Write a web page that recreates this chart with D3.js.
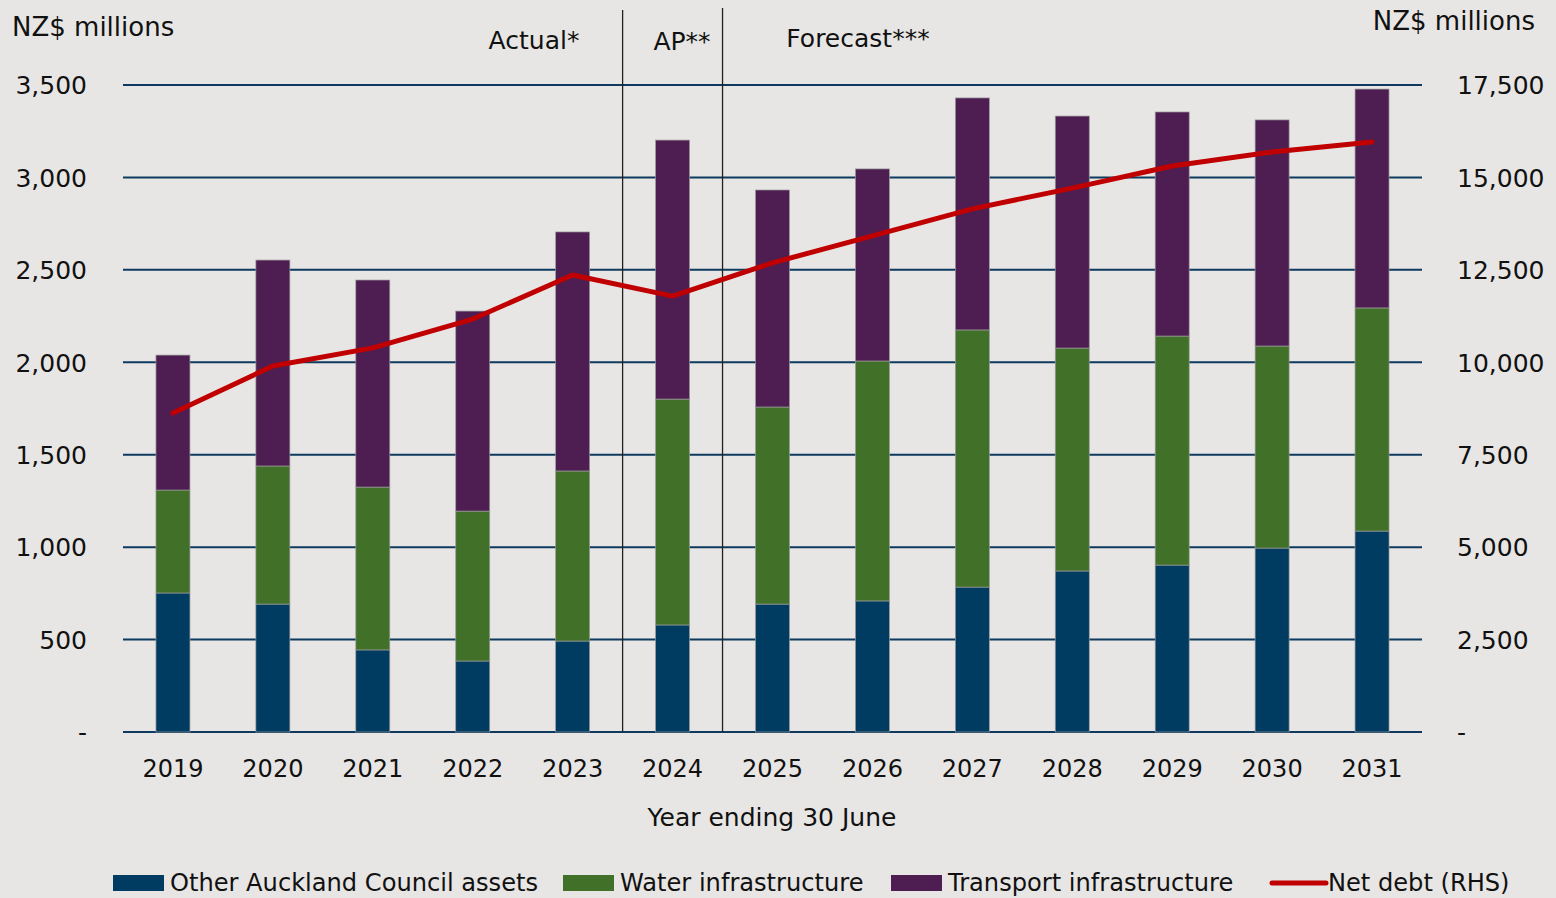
<!DOCTYPE html>
<html>
<head>
<meta charset="UTF-8">
<title></title>
<script src="https://d3js.org/d3.v7.min.js"></script>
<style>
  body { margin: 0; background: #e7e6e4; }
  text { font-family: "DejaVu Sans", "Noto Sans", sans-serif; fill: #111; }
</style>
</head>
<body>
<div id="my_dataviz"></div>
<script>
// data
var years = ["2019","2020","2021","2022","2023","2024","2025","2026","2027","2028","2029","2030","2031"];
var otherAssets = [752, 692, 444, 384, 492, 579, 692, 709, 784, 871, 903, 995, 1087];
var waterInfra  = [557, 747, 881, 811, 920, 1222, 1066, 1298, 1391, 1206, 1239, 1093, 1207];
var transportInfra = [730, 1114, 1120, 1082, 1293, 1401, 1174, 1039, 1255, 1255, 1212, 1223, 1184];
var netDebt = [8630, 9900, 10390, 11170, 12360, 11790, 12690, 13420, 14150, 14710, 15310, 15690, 15960];
var leftTicks = [0, 500, 1000, 1500, 2000, 2500, 3000, 3500];
var rightTicks = [0, 2500, 5000, 7500, 10000, 12500, 15000, 17500];
var periodLabels = ["Actual*", "AP**", "Forecast***"];
var seriesNames = ["Other Auckland Council assets", "Water infrastructure", "Transport infrastructure", "Net debt (RHS)"];
var colors = ["#003b62", "#417029", "#4e1e52", "#c00000"];

var width = 1556, height = 898;
var margin = {top: 85, right: 134, bottom: 166, left: 123};

var svg = d3.select("#my_dataviz").append("svg")
  .attr("width", width).attr("height", height)
  .style("display", "block");

svg.append("rect").attr("width", width).attr("height", height).attr("fill", "#e7e6e4");

var x = d3.scaleBand()
  .domain(years)
  .range([margin.left, width - margin.right])
  .paddingInner(0.66).paddingOuter(0.33);

var y = d3.scaleLinear().domain([0, 3500]).range([height - margin.bottom, margin.top]);
var y2 = d3.scaleLinear().domain([0, 17500]).range([height - margin.bottom, margin.top]);

var fmt = function(d) { return d === 0 ? "-" : d3.format(",")(d); };

// gridlines
svg.append("g").selectAll("line").data(leftTicks).join("line")
  .attr("x1", margin.left).attr("x2", width - margin.right)
  .attr("y1", function(d) { return y(d); }).attr("y2", function(d) { return y(d); })
  .attr("stroke", "#0d3a5e").attr("stroke-width", 2);

// left axis
var gl = svg.append("g")
  .attr("transform", "translate(" + (margin.left - 36) + ",0)")
  .call(d3.axisLeft(y).tickValues(leftTicks).tickFormat(fmt).tickSize(0).tickPadding(0));
gl.select(".domain").remove();
gl.selectAll("text").style("font-size", "25px").attr("dy", "0.35em");

// right axis
var gr = svg.append("g")
  .attr("transform", "translate(" + (width - margin.right + 35) + ",0)")
  .call(d3.axisRight(y2).tickValues(rightTicks).tickFormat(fmt).tickSize(0).tickPadding(0));
gr.select(".domain").remove();
gr.selectAll("text").style("font-size", "25px").attr("dy", "0.35em");

// x axis
var gx = svg.append("g")
  .attr("transform", "translate(0," + (height - margin.bottom) + ")")
  .call(d3.axisBottom(x).tickSize(0).tickPadding(28));
gx.select(".domain").remove();
gx.selectAll("text").style("font-size", "24px");

// stacked bars
var table = years.map(function(yr, i) {
  return {year: yr, other: otherAssets[i], water: waterInfra[i], transport: transportInfra[i]};
});
var stack = d3.stack().keys(["other", "water", "transport"])(table);

svg.append("g").selectAll("g").data(stack).join("g")
  .attr("fill", function(d, i) { return colors[i]; })
  .selectAll("rect").data(function(d) { return d; }).join("rect")
  .attr("x", function(d) { return x(d.data.year); })
  .attr("width", x.bandwidth())
  .attr("y", function(d) { return y(d[1]); })
  .attr("height", function(d) { return y(d[0]) - y(d[1]); })
  .attr("stroke", "#9a9a9a").attr("stroke-width", 0.7);

// period dividers
var dividers = [["2023","2024", 10], ["2024","2025", 8]];
svg.append("g").selectAll("line").data(dividers).join("line")
  .attr("x1", function(d) { return (x(d[0]) + x.bandwidth() + x(d[1])) / 2; })
  .attr("x2", function(d) { return (x(d[0]) + x.bandwidth() + x(d[1])) / 2; })
  .attr("y1", function(d) { return d[2]; })
  .attr("y2", height - margin.bottom)
  .attr("stroke", "#222").attr("stroke-width", 1.3);

// net debt line
svg.append("path")
  .datum(netDebt)
  .attr("fill", "none")
  .attr("stroke", colors[3])
  .attr("stroke-width", 5)
  .attr("stroke-linecap", "round")
  .attr("stroke-linejoin", "round")
  .attr("d", d3.line()
    .x(function(d, i) { return x(years[i]) + x.bandwidth() / 2; })
    .y(function(d) { return y2(d); }));

// titles
svg.append("text").attr("x", 12).attr("y", 36).style("font-size", "26px").text("NZ$ millions");
svg.append("text").attr("x", 1535).attr("y", 30).attr("text-anchor", "end").style("font-size", "26px").text("NZ$ millions");
svg.append("text").attr("x", 534).attr("y", 49).attr("text-anchor", "middle").style("font-size", "25px").text(periodLabels[0]);
svg.append("text").attr("x", 682).attr("y", 50).attr("text-anchor", "middle").style("font-size", "25px").text(periodLabels[1]);
svg.append("text").attr("x", 858).attr("y", 47).attr("text-anchor", "middle").style("font-size", "25px").text(periodLabels[2]);
svg.append("text").attr("x", 772).attr("y", 826).attr("text-anchor", "middle").style("font-size", "25px").text("Year ending 30 June");

// legend
var legendX = [113, 563, 891, 1270];
var lg = svg.append("g").selectAll("g").data(seriesNames).join("g")
  .attr("transform", function(d, i) { return "translate(" + legendX[i] + ",882)"; });
lg.filter(function(d, i) { return i < 3; }).append("rect")
  .attr("x", 0).attr("y", -7).attr("width", 51).attr("height", 16)
  .attr("fill", function(d, i) { return colors[i]; });
lg.filter(function(d, i) { return i === 3; }).append("line")
  .attr("x1", 2).attr("x2", 56).attr("y1", 1).attr("y2", 1)
  .attr("stroke", colors[3]).attr("stroke-width", 5).attr("stroke-linecap", "round");
lg.append("text")
  .attr("transform", function(d, i) { return "translate(" + (i === 3 ? 58 : 57) + ",0) scale(0.965,1)"; })
  .attr("dy", "0.35em")
  .style("font-size", "25px")
  .text(function(d) { return d; });
</script>
</body>
</html>
